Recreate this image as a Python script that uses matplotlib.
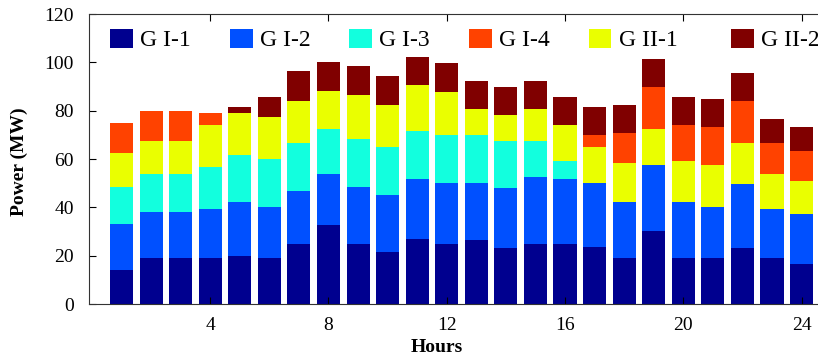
import numpy as np
import matplotlib
matplotlib.use("Agg")
import matplotlib.pyplot as plt

plt.rcParams['font.family'] = ['Liberation Serif', 'DejaVu Serif']

# hourly power of each generating unit (MW)
hours = list(range(1, 25))
g1_1 = [14.1, 18.9, 18.9, 18.9, 19.9, 18.9, 24.7, 32.7, 24.7, 21.4, 27.0, 24.7,
        26.5, 23.0, 24.7, 24.7, 23.7, 18.9, 30.3, 18.9, 18.9, 23.0, 18.9, 16.4]
g1_2 = [18.9, 19.0, 19.0, 20.5, 22.2, 21.4, 22.2, 21.0, 23.9, 23.8, 24.9, 25.5,
        23.7, 24.9, 28.0, 27.2, 26.5, 23.2, 27.4, 23.2, 21.4, 26.5, 20.5, 20.7]
g1_3 = [15.6, 15.8, 15.8, 17.4, 19.6, 19.7, 19.6, 18.7, 19.7, 19.8, 19.7, 19.7,
        19.7, 19.5, 14.7, 7.4, 0, 0, 0, 0, 0, 0, 0, 0]
g1_4 = [12.4, 12.5, 12.5, 5.1, 0, 0, 0, 0, 0, 0, 0, 0,
        0, 0, 0, 0, 4.9, 12.3, 17.3, 14.8, 15.5, 17.3, 12.9, 12.4]
g2_1 = [14.0, 13.7, 13.7, 17.3, 17.5, 17.5, 17.4, 15.7, 18.0, 17.2, 18.9, 18.0,
        10.8, 10.8, 13.3, 14.8, 14.8, 16.4, 14.7, 17.2, 17.4, 17.1, 14.3, 13.9]
g2_2 = [0, 0, 0, 0, 2.5, 8.0, 12.4, 12.2, 12.3, 12.3, 11.6, 11.7,
        11.6, 11.5, 11.6, 11.4, 11.6, 11.5, 11.5, 11.4, 11.5, 11.5, 10.0, 9.8]

# stacking order bottom -> top
stack = [
    ('G I-1', g1_1, '#00008F'),
    ('G I-2', g1_2, '#0050FF'),
    ('G I-3', g1_3, '#12FFDE'),
    ('G II-1', g2_1, '#EAFF00'),
    ('G I-4', g1_4, '#FF4200'),
    ('G II-2', g2_2, '#800000'),
]
legend_order = ['G I-1', 'G I-2', 'G I-3', 'G I-4', 'G II-1']

fig = plt.figure(figsize=(8.18, 3.59), dpi=100)
ax = fig.add_axes([0.1088, 0.1532, 0.900, 0.8078])

handles = {}
bottom = np.zeros(len(hours))
for name, vals, color in stack:
    vals = np.array(vals, dtype=float)
    b = ax.bar(hours, vals, width=0.78, bottom=bottom, color=color, linewidth=0)
    handles[name] = b
    bottom += vals

ax.set_xlim(-0.1, 24.8)
ax.set_ylim(0, 120)
ax.set_xticks([4, 8, 12, 16, 20, 24])
ax.set_yticks(np.arange(0, 121, 20))
ax.tick_params(direction='in', top=True, right=False, labelsize=14, length=5)
ax.tick_params(axis='y', pad=11)
ax.tick_params(axis='x', pad=9)
for s in ax.spines.values():
    s.set_color('#333333')
ax.spines['right'].set_visible(False)

ax.set_ylabel('Power (MW)', fontsize=14, fontweight='bold')
ax.yaxis.set_label_coords(-0.083, 0.49)
ax.set_xlabel('Hours', fontsize=14, fontweight='bold')
ax.xaxis.set_label_coords(0.473, -0.12)

leg_kw = dict(frameon=False, fontsize=17, handlelength=0.97, handleheight=0.85,
              handletextpad=0.3, borderpad=0, borderaxespad=0, loc='center left')
leg1 = ax.legend([handles[n] for n in legend_order], legend_order, ncol=5,
                 columnspacing=1.65, bbox_to_anchor=((110 - 89) / 736, 0.91), **leg_kw)
ax.add_artist(leg1)
ax.legend([handles['G II-2']], ['G II-2'],
          bbox_to_anchor=((731 - 89) / 736, 0.91), **leg_kw)

fig.savefig('out.png', dpi=100)
